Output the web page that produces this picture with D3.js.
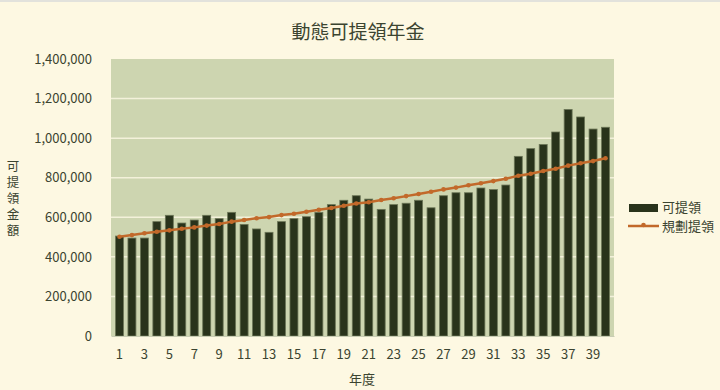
<!DOCTYPE html>
<html>
<head>
<meta charset="utf-8">
<script src="https://cdn.jsdelivr.net/npm/d3@7"></script>
<style>
  body { margin: 0; background: #fdf8e2; }
  text { font-family: "Noto Sans CJK TC", "Noto Sans", sans-serif; fill: #3b4430; }
</style>
</head>
<body>
<div id="chart"></div>
<script>
// data
var years = d3.range(1, 41);
var available = [505000, 495000, 495000, 578000, 610000, 571000, 586000, 610000, 593000, 625000,
  564000, 541000, 524000, 578000, 593000, 603000, 625000, 664000, 686000, 709000,
  692000, 640000, 664000, 671000, 686000, 648000, 709000, 724000, 724000, 748000,
  740000, 763000, 908000, 947000, 968000, 1031000, 1145000, 1107000, 1046000, 1055000];
var planned = [502000, 510000, 519000, 527000, 534000, 542000, 549000, 558000, 566000, 578000,
  586000, 595000, 601000, 611000, 618000, 628000, 638000, 647000, 658000, 670000,
  676000, 687000, 696000, 707000, 718000, 729000, 741000, 750000, 762000, 772000,
  783000, 795000, 810000, 820000, 834000, 845000, 861000, 873000, 884000, 898000];
var yTicks = [0, 200000, 400000, 600000, 800000, 1000000, 1200000, 1400000];

var svgWidth = 720;
var svgHeight = 390;
var margin = { top: 59, right: 106, bottom: 54, left: 111 };
var width = svgWidth - margin.left - margin.right;
var height = svgHeight - margin.top - margin.bottom;

var svg = d3.select("#chart")
  .append("svg")
  .attr("width", svgWidth)
  .attr("height", svgHeight);

svg.append("rect")
  .attr("width", svgWidth).attr("height", 2)
  .attr("fill", "#e2e2dc");

var chartGroup = svg.append("g")
  .attr("transform", `translate(${margin.left}, ${margin.top})`);

var x = d3.scaleBand()
  .domain(years)
  .range([0, width])
  .padding(0.36);

var y = d3.scaleLinear()
  .domain([0, 1400000])
  .range([height, 0]);

// plot background
chartGroup.append("rect")
  .attr("width", width)
  .attr("height", height)
  .attr("fill", "#cdd5b0");

// gridlines
chartGroup.selectAll(".grid")
  .data(yTicks.slice(1, -1))
  .enter()
  .append("line")
  .attr("x1", 0).attr("x2", width)
  .attr("y1", d => y(d)).attr("y2", d => y(d))
  .attr("stroke", "#f3f1da")
  .attr("stroke-width", 1.5);

// bars
chartGroup.selectAll(".bar")
  .data(available)
  .enter()
  .append("rect")
  .attr("x", (d, i) => x(years[i]))
  .attr("y", d => y(d))
  .attr("width", x.bandwidth())
  .attr("height", d => height - y(d))
  .attr("fill", "#29331b")
  .attr("stroke", "#6c7657")
  .attr("stroke-width", 0.8);

// planned line
var line = d3.line()
  .x((d, i) => x(years[i]) + x.bandwidth() / 2)
  .y(d => y(d));

chartGroup.append("path")
  .datum(planned)
  .attr("d", line)
  .attr("fill", "none")
  .attr("stroke", "#c2692a")
  .attr("stroke-width", 2.5);

chartGroup.selectAll(".dot")
  .data(planned)
  .enter()
  .append("circle")
  .attr("cx", (d, i) => x(years[i]) + x.bandwidth() / 2)
  .attr("cy", d => y(d))
  .attr("r", 2.3)
  .attr("fill", "#c2692a");

// axes
var leftAxis = d3.axisLeft(y)
  .tickValues(yTicks)
  .tickSize(0)
  .tickPadding(19)
  .tickFormat(d3.format(","));

var bottomAxis = d3.axisBottom(x)
  .tickValues(years.filter(d => d % 2 == 1))
  .tickSize(0)
  .tickPadding(14);

var gy = chartGroup.append("g").call(leftAxis);
gy.select(".domain").remove();
gy.selectAll("text").attr("font-size", "13px").attr("fill", "#3b4430");

var gx = chartGroup.append("g")
  .attr("transform", `translate(0, ${height})`)
  .call(bottomAxis);
gx.select(".domain").attr("stroke", "#c9cdb4");
gx.selectAll("text").attr("font-size", "13px").attr("fill", "#3b4430");

// title
svg.append("text")
  .attr("x", 358)
  .attr("y", 39)
  .attr("text-anchor", "middle")
  .attr("font-size", "19px")
  .text("動態可提領年金");

// axis titles
svg.append("text")
  .attr("x", 362)
  .attr("y", 384)
  .attr("text-anchor", "middle")
  .attr("font-size", "13px")
  .text("年度");

// vertical y title, one text element
svg.append("text")
  .attr("x", 13)
  .attr("y", 160)
  .attr("font-size", "12.5px")
  .style("writing-mode", "vertical-rl")
  .style("letter-spacing", "3.5px")
  .text("可提領金額");

// legend
svg.append("rect")
  .attr("x", 629).attr("y", 204)
  .attr("width", 29).attr("height", 8)
  .attr("fill", "#29331b");
svg.append("text")
  .attr("x", 662).attr("y", 212)
  .attr("font-size", "13px")
  .text("可提領");

svg.append("line")
  .attr("x1", 628).attr("x2", 659)
  .attr("y1", 226).attr("y2", 226)
  .attr("stroke", "#c2692a")
  .attr("stroke-width", 2.5);
svg.append("circle")
  .attr("cx", 643.5).attr("cy", 225)
  .attr("r", 2.3)
  .attr("fill", "#c2692a");
svg.append("text")
  .attr("x", 662).attr("y", 231)
  .attr("font-size", "13px")
  .text("規劃提領");
</script>
</body>
</html>
